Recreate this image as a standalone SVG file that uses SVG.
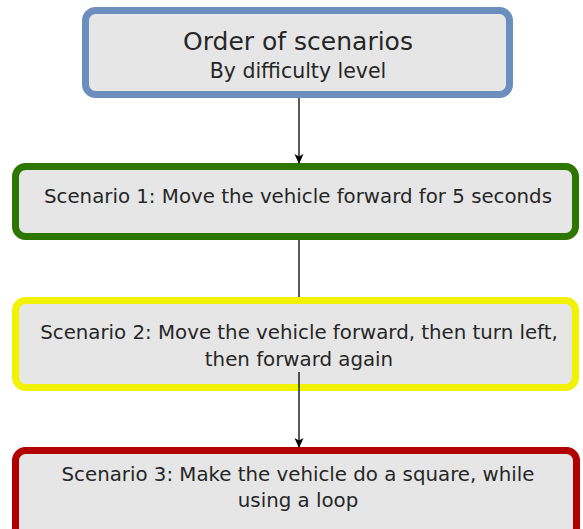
<svg xmlns="http://www.w3.org/2000/svg" width="583" height="529" viewBox="0 0 583 529">
  <defs>
    <marker id="arrow" markerWidth="10" markerHeight="10" refX="9" refY="5" orient="auto" markerUnits="userSpaceOnUse" viewBox="0 0 10 10">
      <path d="M0,0.5 L10,5 L0,9.5 L2.5,5 Z" fill="#000"/>
    </marker>
    <style>
      .box { fill: #e6e6e6; stroke-width: 7; }
      .txt { font-family: "DejaVu Sans", Verdana, sans-serif; fill: #262626; text-anchor: middle; }
      .big { font-size: 25px; }
      .mid { font-size: 20.5px; }
      .sm { font-size: 19.8px; }
      .edge { stroke: #000; stroke-width: 1.3; fill: none; }
    </style>
  </defs>

  <g id="title">
    <rect class="box" x="85.5" y="10.5" width="424" height="84" rx="10" stroke="#6c8ebf"/>
    <text class="txt big" x="298" y="50">Order of scenarios</text>
    <text class="txt mid" x="298" y="78">By difficulty level</text>
  </g>

  <g id="scenario1">
    <rect class="box" x="15.5" y="166.5" width="560" height="70" rx="10" stroke="#2d7600"/>
    <text class="txt sm" x="298" y="203">Scenario 1: Move the vehicle forward for 5 seconds</text>
  </g>

  <g id="scenario2">
    <rect class="box" x="15.5" y="300.5" width="560" height="87" rx="10" stroke="#f2f200"/>
    <text class="txt sm" x="299" y="339">Scenario 2: Move the vehicle forward, then turn left,</text>
    <text class="txt sm" x="299" y="366">then forward again</text>
  </g>

  <g id="scenario3">
    <rect class="box" x="15.5" y="450.5" width="561" height="90" rx="10" stroke="#b20000"/>
    <text class="txt sm" x="298" y="481">Scenario 3: Make the vehicle do a square, while</text>
    <text class="txt sm" x="298" y="507">using a loop</text>
  </g>

  <g id="connectors">
    <line class="edge" x1="299" y1="98" x2="299" y2="163" marker-end="url(#arrow)"/>
    <line class="edge" x1="299" y1="240" x2="299" y2="297"/>
    <line class="edge" x1="299" y1="372" x2="299" y2="447" marker-end="url(#arrow)"/>
  </g>
</svg>
